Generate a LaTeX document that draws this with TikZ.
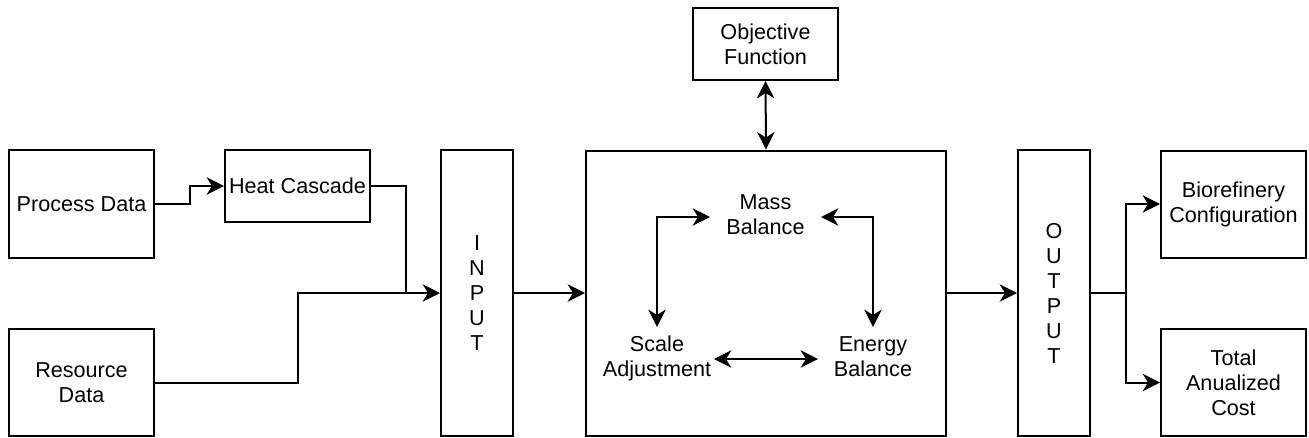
\documentclass[tikz,border=0pt]{standalone}
\usepackage{fontspec}
\setmainfont{Liberation Sans}
\usetikzlibrary{arrows.meta,calc}
\begin{document}
\begin{tikzpicture}[x=0.75pt,y=-0.75pt,
  line width=1.5pt,
  font=\fontsize{16.2}{18.75}\selectfont,
  box/.style={draw, rectangle, inner sep=0pt, align=center},
  lbl/.style={inner sep=0pt, align=center},
  head/.tip={Stealth[length=13pt,width=13pt,inset=4pt]},
  tip/.style={-head},
  bitip/.style={head-head}]
  \useasboundingbox (0,0) rectangle (1309,437);

  % data sources
  \node[box, minimum width=108.75pt, minimum height=81pt] (pd) at (81.5,204) {Process Data};
  \node[box, minimum width=108.75pt, minimum height=80.25pt] (rd) at (81.5,382.5) {Resource\\Data};
  \node[box, minimum width=108.75pt, minimum height=54pt] (hc) at (297.5,186) {Heat Cascade};

  % input / model / output
  \node[box, minimum width=54pt, minimum height=214.5pt] (in) at (477,293) {I\\N\\P\\U\\T};
  \node[box, minimum width=270pt, minimum height=213.75pt] (big) at (766,293) {};
  \node[box, minimum width=108.75pt, minimum height=54pt] (obj) at (765.5,44) {Objective\\Function};
  \node[box, minimum width=54pt, minimum height=214.5pt] (out) at (1054,293) {O\\U\\T\\P\\U\\T};

  % results
  \node[box, minimum width=108.75pt, minimum height=80.25pt] (bio) at (1233.5,204) {Biorefinery\\Configuration};
  \node[box, minimum width=108.75pt, minimum height=80.25pt] (tac) at (1233.5,382.5) {Total\\Anualized\\Cost};

  % balances inside the model
  \node[lbl, minimum width=81.75pt, minimum height=40pt] (mass) at (765.5,217) {\strut Mass\\\strut Balance};
  \node[lbl, minimum width=84pt, minimum height=46.5pt] (scale) at (657,359) {\strut Scale\\\strut Adjustment};
  \node[lbl, minimum width=81pt, minimum height=46.5pt] (energy) at (873,359) {\strut Energy\\\strut Balance};

  % connectors
  \draw[tip] (pd.east) -- ++(35,0) |- (hc.west);
  \coordinate (j1) at (406,293);
  \draw (hc.east) -| (j1);
  \draw[tip] (rd.east) -- ++(143,0) |- (in.west);
  \draw[tip] (in.east) -- (big.west);
  \draw[tip] (big.east) -- (out.west);
  \draw[tip] (out.east) -- ++(35,0) |- (bio.west);
  \draw[tip] (out.east) -- ++(35,0) |- (tac.west);
  \draw[bitip] (obj.south) -- (big.north);

  \draw[bitip] (scale.north) |- (mass.west);
  \draw[bitip] (energy.north) |- (mass.east);
  \draw[bitip] (scale.east) -- (energy.west);
\end{tikzpicture}
\end{document}
